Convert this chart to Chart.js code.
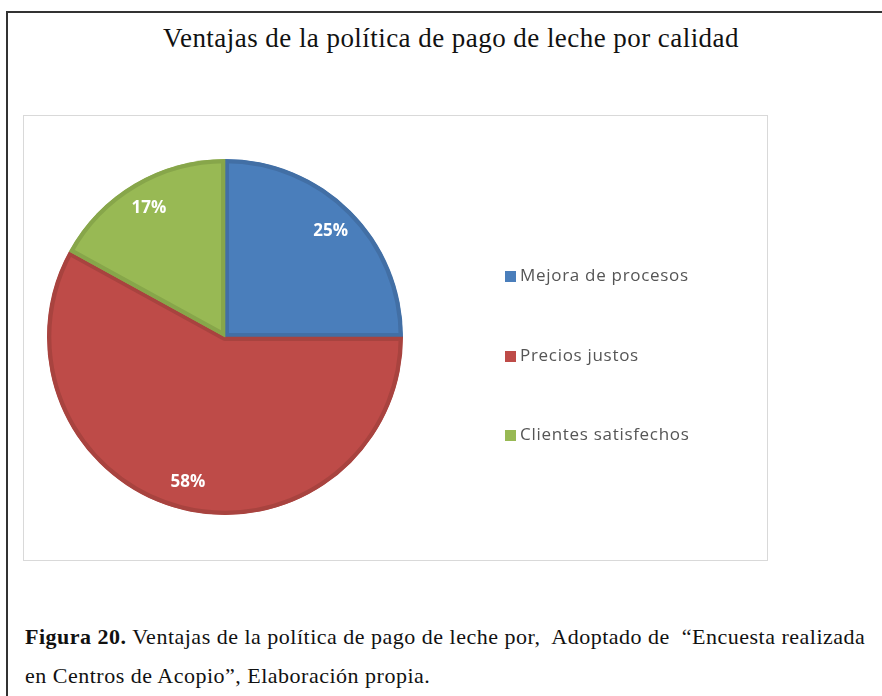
<!DOCTYPE html>
<html>
<head>
<meta charset="utf-8">
<script src="https://cdn.jsdelivr.net/npm/chart.js@4.4.1/dist/chart.umd.min.js"></script>
<style>
  html, body { margin: 0; padding: 0; width: 882px; height: 696px; overflow: hidden; background: #fff; }
  #frame { position: absolute; left: 6px; top: 11px; width: 1000px; height: 1000px; border: 2px solid #333; box-sizing: border-box; }
  #title { position: absolute; left: 0; top: 21px; width: 902px; text-align: center; font-family: "Liberation Serif", serif; font-size: 27px; letter-spacing: 0.45px; color: #111; line-height: 34px; }
  #box { position: absolute; left: 23px; top: 115px; width: 745px; height: 446px; border: 1px solid #d9d9d9; box-sizing: border-box; }
  #chartWrap { position: absolute; left: 0; top: 0; width: 743px; height: 444px; }
  #legend { position: absolute; left: 505px; top: 263px; font-family: "Open Sans", sans-serif; font-size: 17px; letter-spacing: 0.7px; color: #555; }
  .li { position: absolute; white-space: nowrap; height: 24px; line-height: 24px; }
  .sw { display: inline-block; width: 11px; height: 11px; margin-right: 4px; vertical-align: -1px; }
  #caption { position: absolute; left: 25px; top: 617px; font-family: "Liberation Serif", serif; font-size: 22px; letter-spacing: 0.5px; color: #111; line-height: 39px; white-space: nowrap; }
</style>
</head>
<body>
<div id="frame"></div>
<div id="title">Ventajas de la política de pago de leche por calidad</div>
<div id="box"><div id="chartWrap"><canvas id="c"></canvas></div></div>
<div id="legend"></div>
<div id="caption"><b>Figura 20.</b> Ventajas de la política de pago de leche por,&nbsp; Adoptado de &nbsp;“Encuesta realizada<br>en Centros de Acopio”, Elaboración propia.</div>
<script>
const categories = ["Mejora de procesos", "Precios justos", "Clientes satisfechos"];
const values = [25, 58, 17];
const valueLabels = ["25%", "58%", "17%"];
const fillColors = ["#4a7ebb", "#be4b48", "#98b954"];
const edgeColors = ["#426fa5", "#a8433f", "#87a64a"];

// HTML legend built from the categories
const legendEl = document.getElementById('legend');
categories.forEach((name, i) => {
  const d = document.createElement('div');
  d.className = 'li';
  d.style.top = (i * 79.5) + 'px';
  d.innerHTML = '<span class="sw" style="background:' + fillColors[i] + '"></span>' + name;
  legendEl.appendChild(d);
});

const labelPlugin = {
  id: 'sliceLabels',
  afterDatasetsDraw(chart) {
    const ctx = chart.ctx;
    const meta = chart.getDatasetMeta(0);
    ctx.save();
    ctx.fillStyle = '#ffffff';
    ctx.font = 'bold 17px "Open Sans", sans-serif';
    ctx.textAlign = 'center';
    ctx.textBaseline = 'middle';
    meta.data.forEach((arc, i) => {
      const p = arc.getProps(['x', 'y', 'startAngle', 'endAngle', 'outerRadius'], true);
      const mid = (p.startAngle + p.endAngle) / 2;
      const r = p.outerRadius * 0.84;
      ctx.fillText(valueLabels[i], p.x + Math.cos(mid) * r, p.y + Math.sin(mid) * r);
    });
    ctx.restore();
  }
};

new Chart(document.getElementById('c'), {
  type: 'pie',
  data: {
    labels: categories,
    datasets: [{
      data: values,
      backgroundColor: fillColors,
      borderColor: edgeColors,
      borderWidth: 4,
      borderAlign: 'inner'
    }]
  },
  options: {
    responsive: true,
    maintainAspectRatio: false,
    animation: false,
    radius: 178,
    layout: { padding: { left: 0, right: 341, top: 0, bottom: 2 } },
    plugins: {
      legend: { display: false },
      tooltip: { enabled: false },
      title: { display: false }
    }
  },
  plugins: [labelPlugin]
});
</script>
</body>
</html>
